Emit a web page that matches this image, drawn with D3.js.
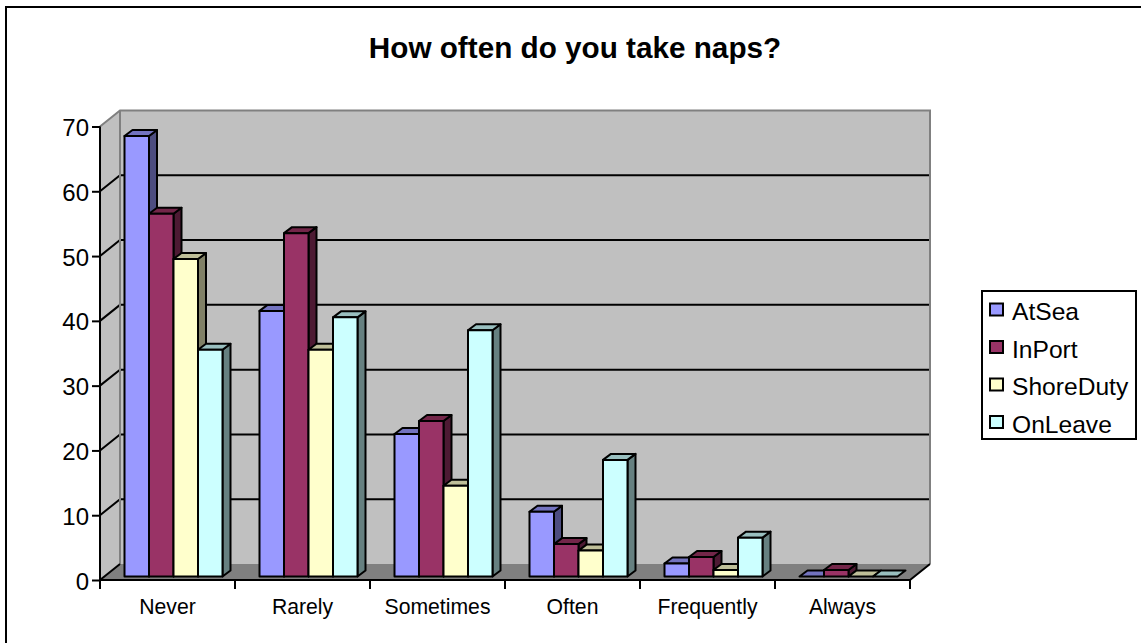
<!DOCTYPE html>
<html><head><meta charset="utf-8">
<script src="https://cdn.jsdelivr.net/npm/d3@7/dist/d3.min.js"></script>
<style>html,body{margin:0;background:#fff}svg{display:block}text{font-family:"Liberation Sans",Arial,sans-serif;fill:#000}</style>
</head><body><svg id="c" width="1141" height="643"></svg>
<script>
const categories=["Never","Rarely","Sometimes","Often","Frequently","Always"];
const seriesNames=["AtSea","InPort","ShoreDuty","OnLeave"];
const atSea=[68,41,22,10,2,0];
const inPort=[56,53,24,5,3,1];
const shoreDuty=[49,35,14,4,1,0];
const onLeave=[35,40,38,18,6,0];
const yTicks=[0,10,20,30,40,50,60,70];
const seriesValues=[atSea,inPort,shoreDuty,onLeave];
const fills=["#9999ff","#993366","#ffffcc","#ccffff"];
const tops=["#7373bf","#732649","#bfbf99","#99bfbf"];
const sides=["#4d4d80","#4d1a33","#808066","#668080"];

const svg=d3.select("#c");
svg.append("path").attr("d","M6,643V7H1141").attr("fill","none").attr("stroke","#000").attr("stroke-width",2);
svg.append("text").attr("x",575).attr("y",57.5).attr("text-anchor","middle").attr("font-size",29.7).attr("font-weight","bold").text("How often do you take naps?");

const x=d3.scaleBand().domain(categories).range([100,910]);
const y=d3.scaleLinear().domain([0,70]).range([580,126.5]);
const dx=20,dy=-16;
const pts=a=>a.map(p=>p.join(",")).join(" ");
// walls
svg.append("polygon").attr("points",pts([[100,y(0)],[100,y(70)],[100+dx,y(70)+dy],[100+dx,y(0)+dy]])).attr("fill","#c0c0c0");
svg.append("rect").attr("x",100+dx).attr("y",y(70)+dy).attr("width",810).attr("height",y(0)-y(70)).attr("fill","#c0c0c0");
svg.append("polygon").attr("points",pts([[100,y(0)],[910,y(0)],[910+dx,y(0)+dy],[100+dx,y(0)+dy]])).attr("fill","#808080");
// grid
yTicks.filter(t=>t>0&&t<70).forEach(t=>{
  svg.append("path").attr("d",`M100,${y(t)}L${100+dx},${y(t)+dy}H${910+dx}`).attr("fill","none").attr("stroke","#000").attr("stroke-width",2);
});
svg.append("path").attr("d",`M100,${y(70)}L${100+dx},${y(70)+dy}L${910+dx},${y(70)+dy}L${910+dx},${y(0)+dy}`).attr("fill","none").attr("stroke","#808080").attr("stroke-width",2);
svg.append("path").attr("d",`M${100+dx},${y(70)+dy}L${100+dx},${y(0)+dy}`).attr("fill","none").attr("stroke","#808080").attr("stroke-width",2);
svg.append("path").attr("d",`M100,${y(0)}L${100+dx},${y(0)+dy}M910,${y(0)}L${910+dx},${y(0)+dy}`).attr("fill","none").attr("stroke","#000").attr("stroke-width",2);

// axes
const gy=svg.append("g").attr("transform","translate(100,0)").call(d3.axisLeft(y).tickValues(yTicks).tickSize(8).tickPadding(3).tickFormat(d3.format("d")));
gy.selectAll("text").attr("font-size",24).attr("dy","0.38em");
gy.selectAll("line,path").attr("stroke","#000").attr("stroke-width",2);
gy.select("path").attr("d",`M0,${y(70)}V${y(0)+1}`);
const gx=svg.append("g").attr("transform","translate(0,580)").call(d3.axisBottom(x).tickSize(0).tickPadding(0));
gx.selectAll("text").attr("font-size",21.2).attr("y",34).attr("dy",0);
gx.select("path").attr("d","M100,0H910").attr("stroke","#000").attr("stroke-width",2);
d3.range(categories.length+1).forEach(i=>{
  const px=100+x.step()*i;
  gx.append("line").attr("x1",px).attr("x2",px).attr("y1",0).attr("y2",9).attr("stroke","#000").attr("stroke-width",2);
});

// bars
const inner=d3.scaleBand().domain(d3.range(4)).range([24.5,122.5]);
const base=576.5,unit=y(0)-y(1),bx=8,by=-6;
categories.forEach((c,ci)=>{
  seriesValues.forEach((vals,si)=>{
    const v=vals[ci],x0=x(c)+inner(si),w=inner.bandwidth(),h=v*unit,t=base-h;
    const g=svg.append("g").attr("stroke","#000").attr("stroke-width",2).attr("stroke-linejoin","round");
    if(v>0){
      g.append("polygon").attr("points",pts([[x0+w,t],[x0+w+bx,t+by],[x0+w+bx,base+by],[x0+w,base]])).attr("fill",sides[si]);
      g.append("polygon").attr("points",pts([[x0,t],[x0+bx,t+by],[x0+w+bx,t+by],[x0+w,t]])).attr("fill",tops[si]);
      g.append("rect").attr("x",x0).attr("y",t).attr("width",w).attr("height",h).attr("fill",fills[si]);
    } else {
      g.append("polygon").attr("points",pts([[x0,base],[x0+bx,base+by],[x0+w+bx,base+by],[x0+w,base]])).attr("fill",tops[si]);
    }
  });
});

// legend
const lg=svg.append("g");
lg.append("rect").attr("x",982).attr("y",291).attr("width",154).attr("height",148).attr("fill","#fff").attr("stroke","#000").attr("stroke-width",2);
const ly=d3.scalePoint().domain(seriesNames).range([312.5,425]);
seriesNames.forEach((n,i)=>{
  lg.append("rect").attr("x",990).attr("y",ly(n)-9).attr("width",13).attr("height",12).attr("fill",fills[i]).attr("stroke","#000").attr("stroke-width",2);
  lg.append("text").attr("x",1012).attr("y",ly(n)+7.5).attr("font-size",24.6).text(n);
});
</script></body></html>
